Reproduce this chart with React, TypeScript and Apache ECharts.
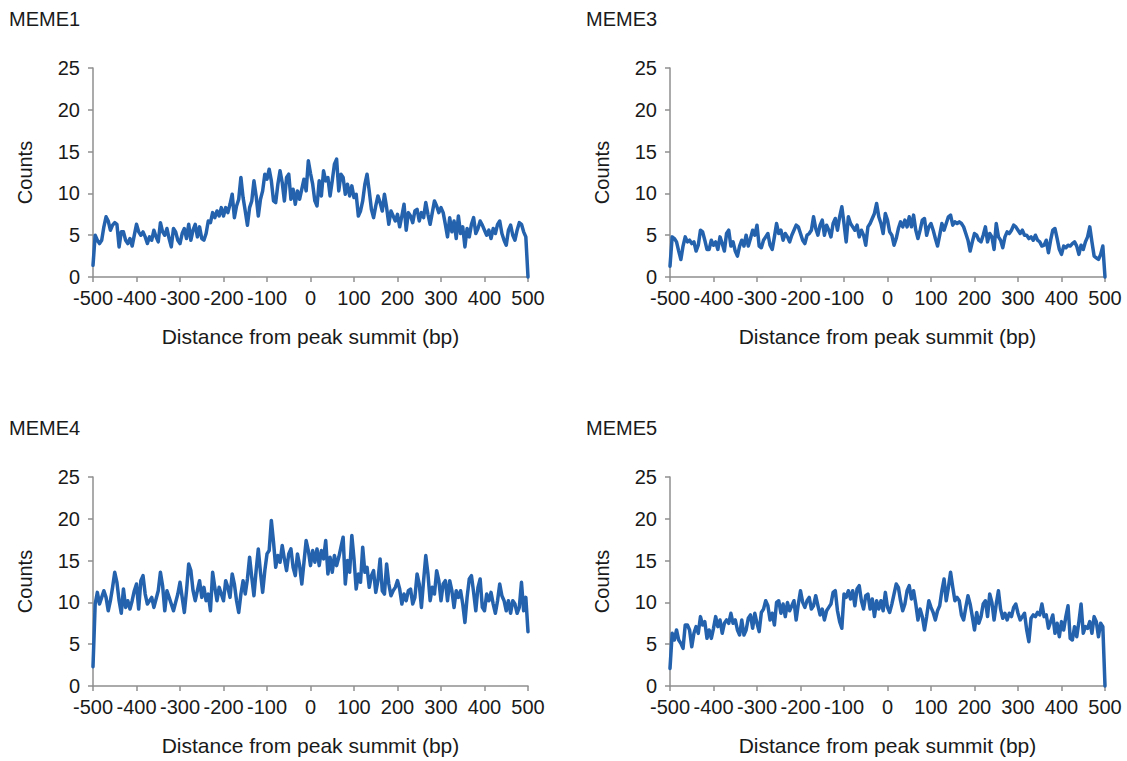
import React, { useEffect, useRef } from "react";
import * as echarts from "echarts";

// Sampling grid (bp), every 5 bp from -500 to 500
const STEP = 5;
const POSITIONS: number[] = Array.from({ length: 201 }, (_, i) => -500 + i * STEP);

const PANEL_TITLES = ["MEME1", "MEME3", "MEME4", "MEME5"];
const X_TITLE = "Distance from peak summit (bp)";
const Y_TITLE = "Counts";
const Y_TICKS = [0, 5, 10, 15, 20, 25];
const X_TICKS = [-500, -400, -300, -200, -100, 0, 100, 200, 300, 400, 500];

const MEME1: number[] = [
  1.4, 5.0, 4.4, 4.0, 4.4, 6.0, 7.2, 6.7, 5.6, 6.2,
  6.5, 6.3, 3.6, 5.4, 5.4, 4.4, 4.0, 4.6, 3.7, 5.0,
  6.3, 5.4, 5.0, 5.4, 4.8, 4.0, 4.8, 4.4, 5.6, 4.8,
  4.2, 6.5, 5.4, 5.0, 5.8, 4.6, 3.6, 5.8, 5.4, 4.4,
  4.0, 5.2, 5.8, 4.6, 6.3, 4.4, 5.6, 6.3, 4.8, 6.0,
  4.6, 4.4, 5.2, 6.7, 6.5, 7.7, 7.1, 7.9, 7.3, 8.3,
  7.3, 8.3, 7.7, 8.7, 9.9, 7.1, 8.5, 9.3, 11.9, 9.5,
  7.9, 6.2, 8.3, 9.1, 11.5, 9.7, 7.3, 9.3, 10.3, 12.3,
  11.7, 12.9, 11.5, 9.1, 8.9, 11.1, 12.7, 11.3, 9.1, 11.9,
  12.3, 9.3, 10.5, 8.7, 10.3, 9.3, 10.5, 11.7, 10.3, 13.9,
  12.4,
  11.1, 9.1, 8.5, 11.5, 9.7, 12.7, 11.5, 11.9, 9.7, 11.5,
  13.5, 14.1, 10.3, 12.3, 11.9, 9.9, 11.1, 9.7, 10.9, 9.5,
  9.9, 7.3, 7.9, 9.1, 11.1, 12.3, 10.3, 8.1, 7.1, 8.5,
  9.7, 8.9, 7.9, 9.9, 8.3, 6.3, 7.9, 7.3, 6.7, 7.5,
  6.0, 7.3, 8.7, 5.6, 7.7, 7.3, 6.5, 7.9, 8.1, 6.7,
  7.7, 7.1, 8.9, 7.5, 6.3, 7.7, 9.1, 8.5, 7.7, 8.3,
  7.7, 6.3, 4.8, 7.1, 5.4, 6.7, 4.6, 7.3, 5.2, 6.0,
  3.6, 5.8, 4.8, 6.3, 7.1, 5.2, 5.8, 6.7, 6.2, 5.6,
  5.0, 5.6, 4.6, 5.8, 5.2, 6.3, 6.7, 5.2, 4.4, 3.8,
  5.6, 6.2, 5.0, 4.4, 5.6, 6.5, 6.3, 5.4, 4.8, 0,
];

const MEME3: number[] = [
  1.3, 4.8, 4.6, 4.2, 3.1, 2.1, 3.7, 4.8, 4.2, 4.4,
  4.0, 4.2, 3.1, 3.8, 5.6, 5.4, 4.4, 3.3, 3.3, 4.4,
  3.8, 4.2, 3.3, 4.8, 4.0, 3.1, 5.2, 5.6, 3.7, 4.2,
  3.1, 2.5, 3.7, 4.4, 3.7, 5.0, 3.7, 4.6, 5.6, 5.0,
  6.2, 3.7, 3.5, 4.4, 4.8, 5.2, 3.8, 3.3, 4.8, 6.4,
  5.2, 5.6, 4.4, 5.2, 4.8, 4.2, 5.0, 5.6, 6.2, 6.0,
  5.2, 4.4, 4.0, 5.0, 5.2, 5.6, 7.2, 5.8, 5.0, 6.2,
  6.8, 5.0, 6.2, 5.6, 4.8, 6.4, 7.0, 5.6, 7.2, 8.4,
  6.4, 4.2, 7.2, 6.4, 6.0, 5.6, 6.2, 4.8, 5.6, 5.0,
  3.8, 6.0, 6.4, 7.0, 7.6, 8.8, 7.2, 6.4, 5.2, 7.6,
  6.8,
  5.4, 5.0, 3.8, 4.6, 5.8, 6.6, 6.0, 6.8, 6.0, 7.2,
  6.0, 7.4, 5.6, 4.6, 5.6, 6.8, 7.0, 5.0, 6.0, 6.4,
  5.6, 4.6, 3.7, 5.0, 6.4, 5.6, 6.4, 7.2, 7.4, 6.2,
  6.6, 6.4, 6.6, 6.4, 6.0, 5.2, 4.4, 3.1, 4.2, 5.2,
  5.0, 4.4, 4.2, 5.0, 6.0, 4.2, 5.2, 4.8, 3.3, 6.4,
  4.8, 4.4, 3.5, 4.8, 5.4, 5.2, 5.6, 6.2, 6.0, 5.6,
  5.2, 5.6, 5.0, 5.0, 4.6, 4.8, 4.4, 5.0, 4.4, 4.2,
  3.7, 3.8, 4.4, 2.9, 4.4, 5.6, 5.8, 4.6, 3.3, 2.7,
  3.7, 3.5, 3.8, 3.7, 4.0, 4.2, 3.7, 2.7, 3.8, 3.3,
  4.2, 4.8, 6.0, 4.2, 2.5, 2.3, 2.1, 2.7, 3.7, 0,
];

const MEME4: number[] = [
  2.3, 9.8, 11.2, 9.8, 10.6, 11.4, 10.6, 9.0, 10.2, 11.8,
  13.6, 12.4, 10.2, 8.7, 11.6, 9.4, 10.2, 9.2, 10.2, 11.4,
  12.2, 9.2, 12.6, 13.2, 11.0, 9.8, 10.2, 10.6, 9.4, 10.4,
  11.4, 13.6, 12.0, 9.0, 11.4, 10.6, 9.8, 9.0, 10.0, 11.0,
  12.4, 10.6, 8.8, 11.4, 14.6, 13.8, 11.4, 10.2, 11.4, 12.6,
  10.6, 11.8, 10.2, 11.0, 9.0, 13.6, 11.8, 10.2, 11.8, 11.0,
  10.2, 12.6, 11.8, 10.6, 13.4, 12.2, 10.2, 8.8, 11.0, 12.6,
  11.0, 12.8, 15.4, 13.0, 10.8, 13.8, 16.4, 13.6, 11.2, 13.8,
  15.8, 16.2, 19.8, 17.2, 14.2, 15.6, 14.8, 16.8, 15.2, 13.8,
  15.8, 16.4, 14.2, 13.2, 15.8, 14.4, 12.2, 14.8, 17.4, 16.2,
  14.4,
  16.2, 14.8, 16.4, 14.4, 16.2, 15.2, 17.4, 13.4, 15.4, 13.6,
  15.6, 14.4, 15.4, 16.6, 17.8, 12.2, 15.0, 13.6, 18.0, 15.2,
  11.6, 13.4, 12.4, 16.6, 13.6, 14.2, 11.8, 13.2, 13.8, 11.2,
  12.6, 15.2, 11.4, 11.0, 14.6, 12.2, 10.8, 11.4, 11.8, 12.6,
  11.6, 9.8, 11.0, 10.2, 11.4, 11.6, 9.8, 10.6, 13.4, 12.2,
  9.4, 12.6, 15.6, 13.4, 10.2, 11.8, 11.0, 13.8, 12.6, 10.2,
  12.2, 12.6, 10.2, 12.6, 11.4, 9.4, 11.4, 10.6, 11.4, 9.8,
  7.6, 10.6, 12.8, 13.2, 11.2, 9.0, 11.8, 12.8, 9.4, 9.0,
  11.0, 10.2, 11.2, 9.8, 8.7, 10.2, 12.2, 10.8, 10.2, 9.0,
  10.2, 8.7, 10.2, 9.8, 8.7, 9.4, 12.4, 9.0, 10.6, 6.5,
];

const MEME5: number[] = [
  2.1, 6.3, 5.5, 6.7, 5.5, 5.1, 4.5, 7.3, 7.3, 6.7,
  4.7, 6.3, 7.1, 6.3, 8.3, 7.3, 7.7, 5.7, 6.7, 5.7,
  6.9, 8.3, 7.1, 7.9, 6.3, 7.5, 7.9, 7.5, 8.7, 7.5,
  7.9, 6.7, 6.1, 7.9, 6.1, 6.7, 8.1, 8.5, 6.9, 8.7,
  7.5, 6.5, 8.8, 9.2, 10.2, 9.6, 7.9, 8.7, 7.3, 10.0,
  10.2, 8.7, 9.8, 8.3, 10.0, 9.0, 9.6, 10.2, 7.9, 9.8,
  11.4, 10.0, 9.4, 10.2, 10.6, 9.2, 9.6, 10.8, 9.6, 8.5,
  9.2, 7.9, 9.0, 9.4, 9.8, 11.2, 11.4, 9.0, 7.7, 6.9,
  11.0, 10.6, 11.4, 10.4, 11.4, 9.6, 11.6, 12.0, 10.2, 9.2,
  10.8, 11.0, 9.2, 10.4, 8.3, 10.2, 9.2, 10.2, 9.0, 11.2,
  9.4,
  8.8, 9.8, 11.0, 12.2, 11.8, 10.2, 9.0, 9.8, 11.4, 12.0,
  10.4, 11.4, 9.8, 7.9, 9.2, 8.3, 6.7, 8.3, 10.2, 9.4,
  8.8, 7.9, 9.0, 9.6, 11.4, 12.8, 10.2, 11.8, 13.6, 11.8,
  10.2, 10.6, 10.2, 8.5, 7.9, 9.4, 10.8, 9.8, 8.3, 6.7,
  8.8, 7.5, 8.3, 9.8, 10.2, 8.3, 11.0, 10.0, 7.9, 9.8,
  11.4, 9.2, 8.1, 8.7, 7.9, 8.7, 8.3, 9.4, 9.8, 8.7,
  7.9, 8.3, 8.7, 6.7, 5.3, 8.1, 8.5, 8.3, 8.8, 8.5,
  9.8, 8.3, 8.5, 6.9, 7.7, 8.5, 6.3, 7.5, 5.9, 7.7,
  6.7, 8.3, 9.6, 5.7, 5.5, 7.1, 5.9, 7.7, 9.8, 6.3,
  7.1, 6.9, 7.7, 6.3, 8.3, 7.7, 5.9, 7.5, 7.1, 0,
];

const SERIES_DATA = [MEME1, MEME3, MEME4, MEME5];

const FONT = "'Liberation Sans', Arial, sans-serif";
const LINE_COLOR = "#2462ad";
const AXIS_COLOR = "#8f8f8f";
const TEXT_COLOR = "#1a1a1a";

// Panel layout (pixels)
const GRIDS = [
  { left: 93, top: 68 },
  { left: 670, top: 68 },
  { left: 93, top: 477 },
  { left: 670, top: 477 },
];
const GRID_W = 435;
const GRID_H = 209;

export default function App() {
  const ref = useRef<HTMLDivElement>(null);

  useEffect(() => {
    const prevMargin = document.body.style.margin;
    document.body.style.margin = "0";
    const chart = echarts.init(ref.current!, undefined, { renderer: "svg" });

    const grid = GRIDS.map((g) => ({
      left: g.left,
      top: g.top,
      width: GRID_W,
      height: GRID_H,
      containLabel: false,
    }));

    const xAxis = GRIDS.map((_, i) => ({
      type: "value",
      gridIndex: i,
      min: X_TICKS[0],
      max: X_TICKS[X_TICKS.length - 1],
      interval: 100,
      name: X_TITLE,
      nameLocation: "middle",
      nameGap: 49,
      nameTextStyle: { fontFamily: FONT, fontSize: 21, color: TEXT_COLOR },
      axisLine: { show: true, onZero: false, lineStyle: { color: AXIS_COLOR, width: 1.5 } },
      axisTick: { show: true, length: 5, inside: false, lineStyle: { color: AXIS_COLOR, width: 1.5 } },
      axisLabel: { fontFamily: FONT, fontSize: 20, color: TEXT_COLOR, margin: 11 },
      splitLine: { show: false },
    }));

    const yAxis = GRIDS.map((_, i) => ({
      type: "value",
      gridIndex: i,
      min: Y_TICKS[0],
      max: Y_TICKS[Y_TICKS.length - 1],
      interval: 5,
      name: Y_TITLE,
      nameLocation: "middle",
      nameGap: 58,
      nameTextStyle: { fontFamily: FONT, fontSize: 20, color: TEXT_COLOR },
      axisLine: { show: true, onZero: false, lineStyle: { color: AXIS_COLOR, width: 1.5 } },
      axisTick: { show: true, length: 5, inside: false, lineStyle: { color: AXIS_COLOR, width: 1.5 } },
      axisLabel: { fontFamily: FONT, fontSize: 20, color: TEXT_COLOR, margin: 13 },
      splitLine: { show: false },
    }));

    const title = PANEL_TITLES.map((t, i) => ({
      text: t,
      left: GRIDS[i].left - 84,
      top: GRIDS[i].top - 59,
      padding: 0,
      textStyle: { fontFamily: FONT, fontSize: 20, fontWeight: "normal", color: TEXT_COLOR },
    }));

    const series = SERIES_DATA.map((vals, i) => ({
      type: "line",
      xAxisIndex: i,
      yAxisIndex: i,
      data: vals.map((v, j) => [POSITIONS[j], v]),
      showSymbol: false,
      symbol: "none",
      lineStyle: { color: LINE_COLOR, width: 3.5, join: "round", cap: "round" },
      itemStyle: { color: LINE_COLOR },
      clip: false,
    }));

    chart.setOption({
      animation: false,
      backgroundColor: "#ffffff",
      title,
      grid,
      xAxis,
      yAxis,
      series,
    });

    return () => {
      chart.dispose();
      document.body.style.margin = prevMargin;
    };
  }, []);

  return <div ref={ref} style={{ width: 1127, height: 761 }} />;
}
